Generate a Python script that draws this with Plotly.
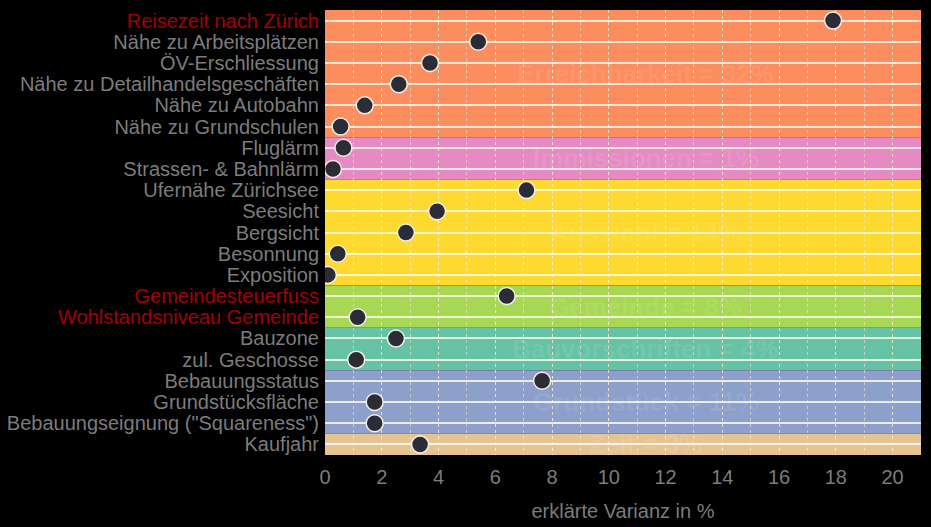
import plotly.graph_objects as go

features = [
    "Reisezeit nach Zürich", "Nähe zu Arbeitsplätzen", "ÖV-Erschliessung",
    "Nähe zu Detailhandelsgeschäften", "Nähe zu Autobahn", "Nähe zu Grundschulen",
    "Fluglärm", "Strassen- & Bahnlärm",
    "Ufernähe Zürichsee", "Seesicht", "Bergsicht", "Besonnung", "Exposition",
    "Gemeindesteuerfuss", "Wohlstandsniveau Gemeinde",
    "Bauzone", "zul. Geschosse",
    "Bebauungsstatus", "Grundstücksfläche", 'Bebauungseignung ("Squareness")',
    "Kaufjahr",
]
variance = [17.9, 5.4, 3.7, 2.6, 1.4, 0.55,
            0.65, 0.28,
            7.1, 3.95, 2.85, 0.45, 0.1,
            6.4, 1.15,
            2.5, 1.1,
            7.65, 1.75, 1.75,
            3.35]
highlighted = ["Reisezeit nach Zürich", "Gemeindesteuerfuss", "Wohlstandsniveau Gemeinde"]

group_names = ["Erreichbarkeit = 32%", "Immissionen = 1%", "Aussicht = 14%",
               "Gemeinde = 8%", "Bauvorschriften = 4%", "Grundstück = 11%", "Zeit = 3%"]
group_sizes = [6, 2, 5, 2, 2, 3, 1]
group_colors = ["#FC8D5E", "#E68AC4", "#FED92F", "#A6D854", "#66C2A5", "#8DA0CB", "#E5C494"]
group_text_colors = ["rgba(255,255,255,0.09)"] * 7

x_max = 21
x_ticks = list(range(0, 21, 2))

ypos = list(range(len(features)))
ticktext = [
    f"<span style='color:#A40000'>{f}</span>" if f in highlighted else f
    for f in features
]

fig = go.Figure()

shapes = []
annotations = []
start = 0
for name, size, col, tcol in zip(group_names, group_sizes, group_colors, group_text_colors):
    y0 = start - 0.5
    y1 = start + size - 0.5
    shapes.append(dict(type="rect", xref="x", yref="y", x0=0, x1=x_max, y0=y0, y1=y1,
                       fillcolor=col, line=dict(width=0), layer="below"))
    annotations.append(dict(x=11.3, y=(y0 + y1) / 2, xref="x", yref="y", text=f"<b>{name}</b>",
                            showarrow=False, font=dict(size=26, color=tcol,
                                                       family="Liberation Sans, Arial")))
    start += size

fig.add_trace(go.Scatter(
    x=variance, y=ypos, mode="markers",
    marker=dict(size=17, color="#2C2C36", line=dict(color="#F2EEE6", width=1.5)),
    hoverinfo="x+text", text=features, showlegend=False,
))

grey = "#7C7C7C"
fig.update_layout(
    width=931, height=527,
    paper_bgcolor="black", plot_bgcolor="black",
    margin=dict(l=325, r=10, t=10, b=72),
    shapes=shapes, annotations=annotations,
    font=dict(family="Liberation Sans, Arial", size=20, color=grey),
    xaxis=dict(
        range=[0, x_max], tickvals=x_ticks, showgrid=True, gridcolor="rgba(255,245,225,0.5)",
        griddash="dot", gridwidth=1, zeroline=False, showline=False,
        ticks="", ticklabelstandoff=8, automargin=False,
        tickfont=dict(size=20, color=grey),
        minor=dict(dtick=1, showgrid=True, gridcolor="rgba(255,245,225,0.5)", griddash="dot",
                   gridwidth=1, ticks=""),
        title=dict(text="erklärte Varianz in %", font=dict(size=20, color=grey), standoff=16),
        fixedrange=True,
    ),
    yaxis=dict(
        range=[len(features) - 0.5, -0.5], tickvals=ypos, ticktext=ticktext,
        showgrid=True, gridcolor="rgba(255,248,232,0.85)", gridwidth=2, zeroline=False,
        showline=False, ticks="", ticklabelstandoff=5, automargin=False,
        tickfont=dict(size=20, color=grey),
    ),
)

fig.write_html("out.html", config={"displayModeBar": False},
               post_script="document.body.style.margin='0';document.body.style.background='black';")
